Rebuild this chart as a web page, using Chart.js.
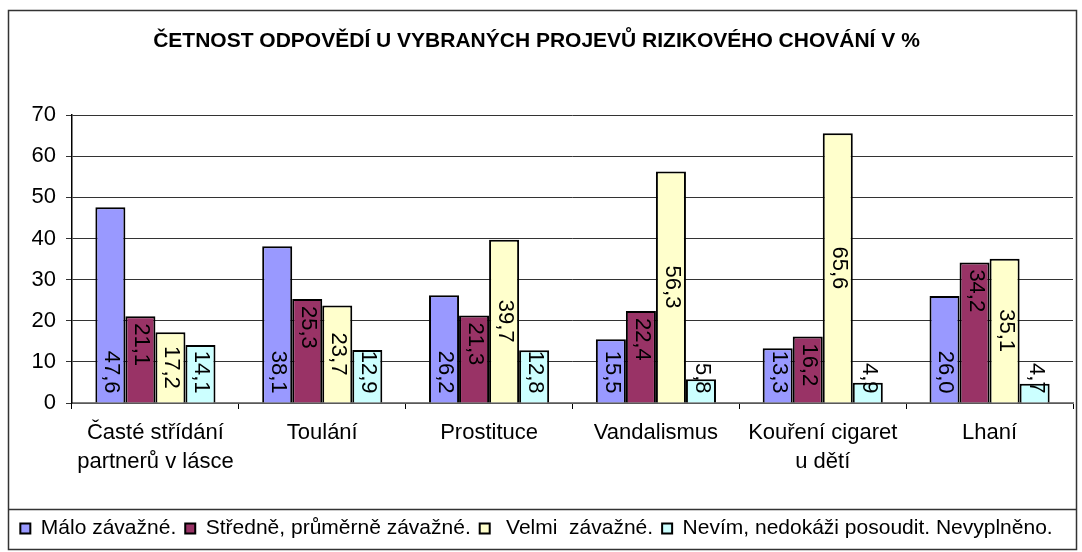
<!DOCTYPE html>
<html>
<head>
<meta charset="utf-8">
<script src="https://cdn.jsdelivr.net/npm/chart.js@4/dist/chart.umd.min.js"></script>
<style>
  html, body { margin: 0; padding: 0; background: #fff; }
  #wrap { width: 1082px; height: 552px; }
</style>
</head>
<body>
<div id="wrap"><canvas id="graf" width="1082" height="552"></canvas></div>
<script>
// kategorie (projevy rizikového chování)
const kategorie = [
    ['Časté střídání', 'partnerů v lásce'],
    'Toulání',
    'Prostituce',
    'Vandalismus',
    ['Kouření cigaret', 'u dětí'],
    'Lhaní'
];

// hodnoty v % pro jednotlivé odpovědi
const maloZavazne = [47.6, 38.1, 26.2, 15.5, 13.3, 26.0];
const stredneZavazne = [21.1, 25.3, 21.3, 22.4, 16.2, 34.2];
const velmiZavazne = [17.2, 23.7, 39.7, 56.3, 65.6, 35.1];
const nevim = [14.1, 12.9, 12.8, 5.8, 4.9, 4.7];

// popisky osy y
const osaY = [0, 10, 20, 30, 40, 50, 60, 70];

const nazev = 'ČETNOST ODPOVĚDÍ U VYBRANÝCH PROJEVŮ RIZIKOVÉHO CHOVÁNÍ V %';
const legenda = ['Málo závažné.', 'Středně, průměrně závažné.', ' Velmi  závažné.', 'Nevím, nedokáži posoudit. Nevyplněno.'];

// kde leží popisek uvnitř sloupce (pro každou řadu)
const umisteniPopisku = ['base', 'top', 'center', 'center'];

const font = "'Liberation Sans', Arial, sans-serif";

// rámeček kolem grafu a čára nad legendou
const ramecek = {
    id: 'ramecek',
    afterDraw(chart) {
        const ctx = chart.ctx;
        ctx.save();
        ctx.strokeStyle = '#333';
        ctx.lineWidth = 1.5;
        ctx.strokeRect(8.5, 10.5, 1068, 539);
        const y = Math.round(chart.legend.top) + 0.5;
        ctx.beginPath();
        ctx.moveTo(8.5, y);
        ctx.lineTo(1076.5, y);
        ctx.stroke();
        ctx.restore();
    }
};

// svislé popisky hodnot ve sloupcích
const popisky = {
    id: 'popisky',
    afterDatasetsDraw(chart) {
        const ctx = chart.ctx;
        ctx.save();
        ctx.font = '22px ' + font;
        ctx.fillStyle = '#000';
        ctx.textBaseline = 'middle';
        chart.data.datasets.forEach((ds, i) => {
            const meta = chart.getDatasetMeta(i);
            meta.data.forEach((bar, j) => {
                const text = ds.data[j].toFixed(1).replace('.', ',');
                const w = ctx.measureText(text).width;
                const top = bar.y, base = bar.base;
                let cy;
                if (umisteniPopisku[i] === 'base') {
                    cy = base - 9 - w / 2;
                } else if (umisteniPopisku[i] === 'top') {
                    cy = top + 7 + w / 2;
                } else {
                    cy = Math.min((top + base) / 2, base - 9 - w / 2);
                }
                ctx.save();
                ctx.translate(bar.x + 1, cy);
                ctx.rotate(Math.PI / 2);
                ctx.textAlign = 'center';
                ctx.fillText(text, 0, 0);
                ctx.restore();
            });
        });
        ctx.restore();
    }
};

function rada(label, data, barva) {
    return {
        label: label,
        data: data,
        backgroundColor: barva,
        borderColor: '#000',
        borderWidth: 2,
        categoryPercentage: 0.72,
        barPercentage: 1
    };
}

new Chart(document.getElementById('graf'), {
    type: 'bar',
    data: {
        labels: kategorie,
        datasets: [
            rada(legenda[0], maloZavazne, '#9999FF'),
            rada(legenda[1], stredneZavazne, '#993366'),
            rada(legenda[2], velmiZavazne, '#FFFFCC'),
            rada(legenda[3], nevim, '#CCFFFF')
        ]
    },
    options: {
        responsive: false,
        animation: false,
        layout: { padding: { left: 0, right: 9, top: 0, bottom: 3 } },
        plugins: {
            title: {
                display: true,
                text: nazev,
                color: '#000',
                font: { family: font, size: 21, weight: 'bold' },
                padding: { top: 29, bottom: 61 }
            },
            legend: {
                position: 'bottom',
                labels: {
                    color: '#000',
                    font: { family: font, size: 21 },
                    boxWidth: 10,
                    boxHeight: 10,
                    padding: 9
                }
            },
            tooltip: { enabled: false }
        },
        scales: {
            x: {
                grid: { drawOnChartArea: false, tickLength: 6, color: '#000' },
                border: { color: '#808080', width: 1.5 },
                ticks: {
                    color: '#000',
                    font: { family: font, size: 22, lineHeight: 1.3 },
                    padding: 10,
                    maxRotation: 0
                },
                afterFit(s) { s.height = 106; }
            },
            y: {
                min: 0,
                max: 70,
                afterBuildTicks(s) { s.ticks = osaY.map(v => ({ value: v })); },
                grid: { color: '#333', tickLength: 6 },
                border: { color: '#000', width: 1.5 },
                ticks: {
                    color: '#000',
                    font: { family: font, size: 22 },
                    padding: 10
                },
                afterFit(s) { s.width = 72; }
            }
        }
    },
    plugins: [ramecek, popisky]
});
</script>
</body>
</html>
